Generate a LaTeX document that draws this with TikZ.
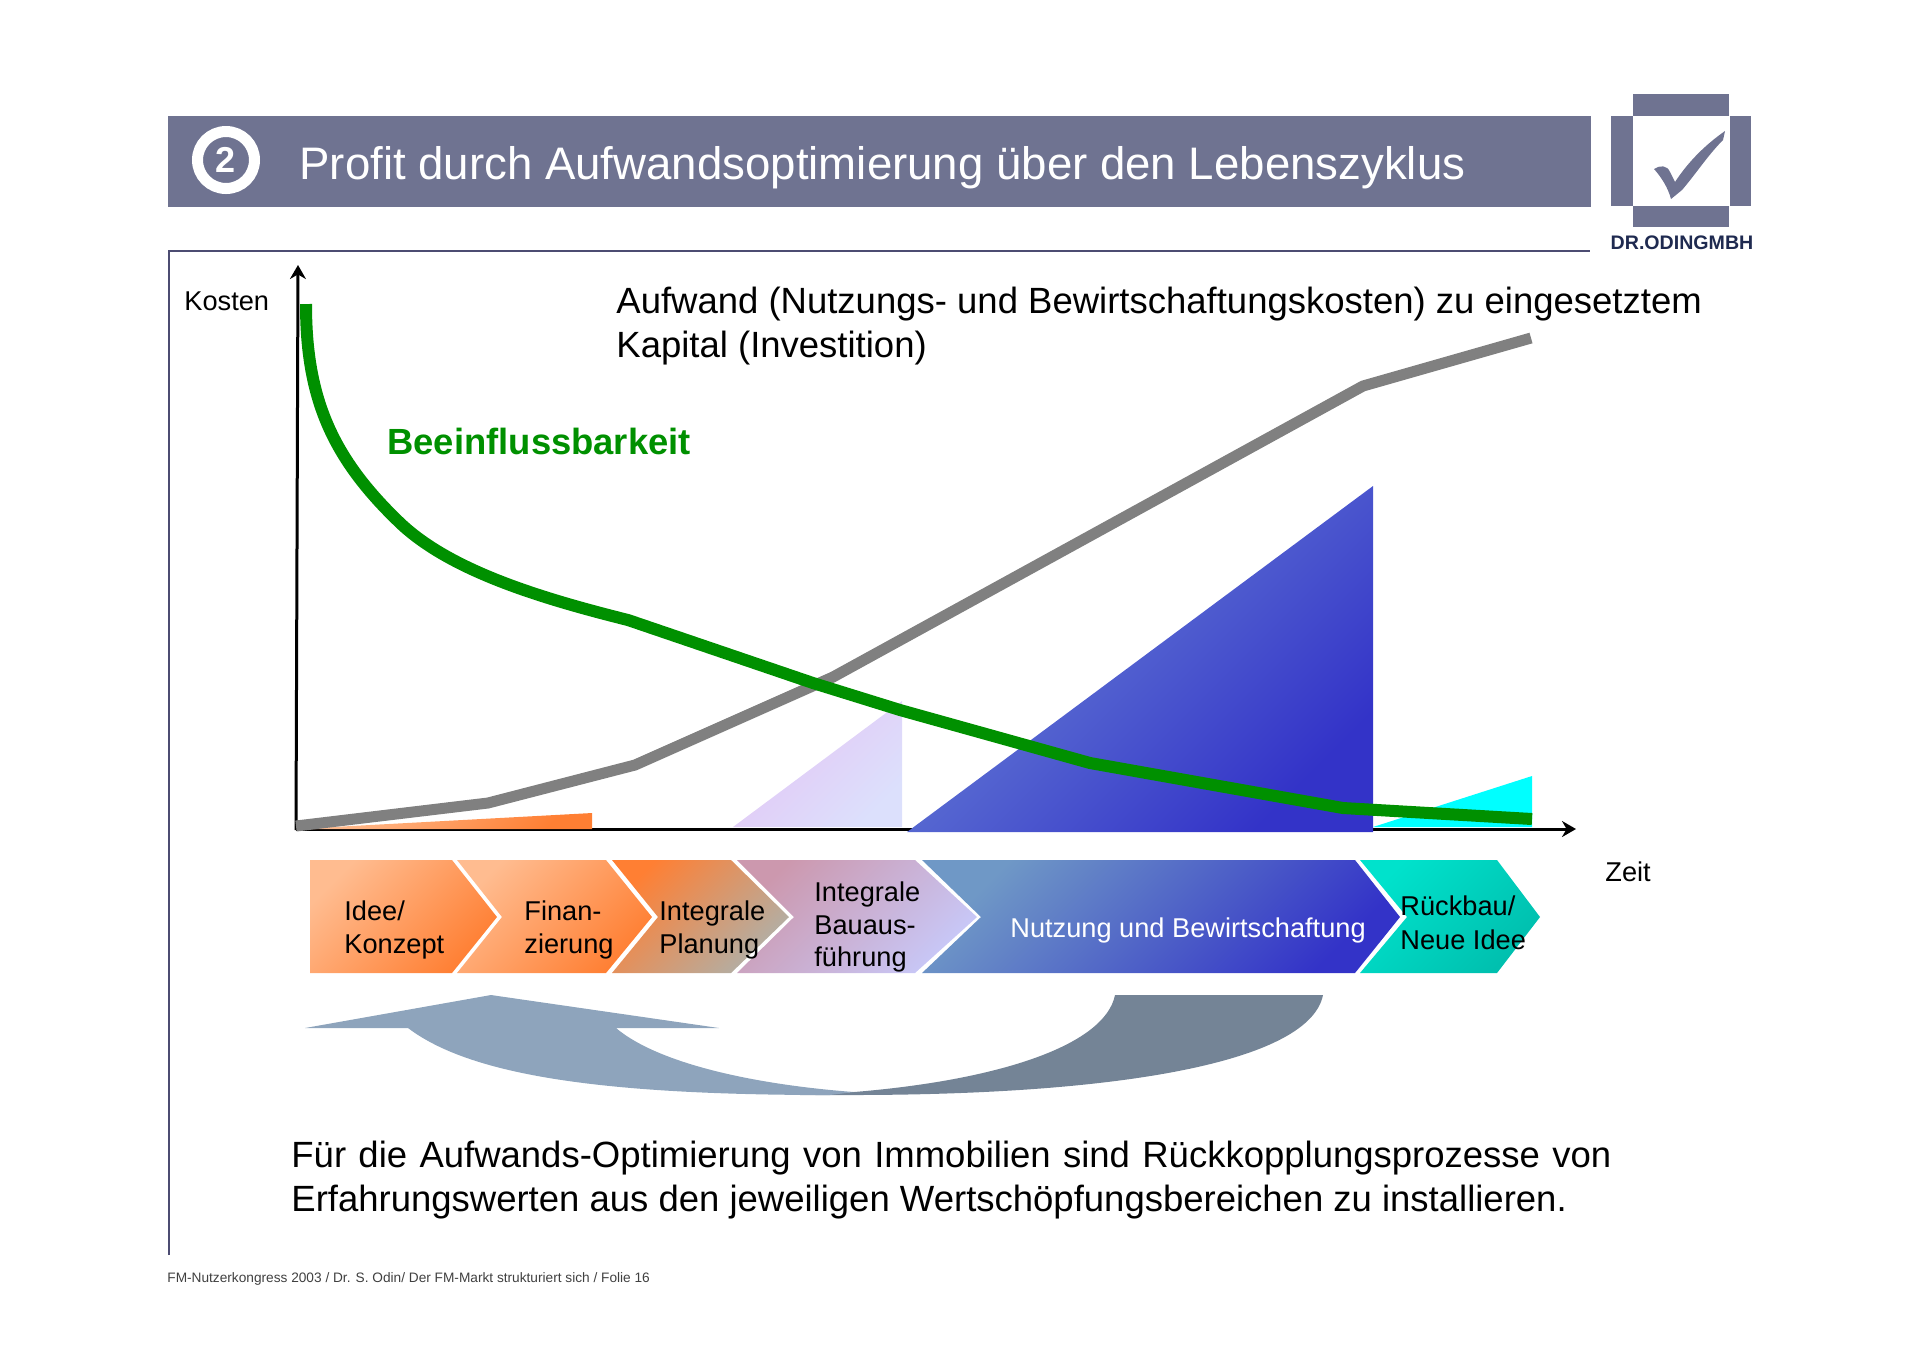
\documentclass[tikz,border=0pt]{standalone}
\usepackage{fontspec}
\setmainfont{Liberation Sans}
\usepackage{tikz}
\usetikzlibrary{arrows.meta}
\definecolor{barblue}{HTML}{6F7391}
\definecolor{rulecol}{HTML}{4C4C72}
\definecolor{logotext}{HTML}{1F2A50}
\definecolor{greencurve}{HTML}{009000}
\definecolor{backlight}{HTML}{8EA4BC}
\definecolor{backdark}{HTML}{748496}
\definecolor{orangea}{HTML}{FFBC90}
\definecolor{orangeb}{HTML}{FF7F33}
\definecolor{greyc}{HTML}{B0B0A8}
\definecolor{mauve}{HTML}{CC98AE}
\definecolor{lilac}{HTML}{C8C8F8}
\definecolor{blueb}{HTML}{6F98C6}
\definecolor{bluec}{HTML}{3333C8}
\definecolor{tealb}{HTML}{00E2CC}
\definecolor{tealc}{HTML}{00BFAE}
\definecolor{triA}{HTML}{E4C4F4}
\definecolor{triB}{HTML}{DCE0FC}
\definecolor{triC}{HTML}{6C88D6}
\definecolor{cyanfill}{HTML}{00FFFF}

\begin{document}
\begin{tikzpicture}[x=0.5pt,y=-0.5pt,
  >={Stealth[length=7pt,width=8pt]},
  lbl/.style={inner sep=0pt, anchor=west, align=left, font=\fontsize{13.6}{16.8}\selectfont},
  bigtxt/.style={inner sep=0pt, anchor=west, align=left, font=\fontsize{18.25}{22}\selectfont},
  barcol/.style={fill=barblue, draw=none},
  chev/.style 2 args={draw=none, left color=#1, right color=#2, shading angle=45},
  axisl/.style={draw=black, line width=1.5pt},
]
\useasboundingbox (0,0) rectangle (1920,1357);
% ---------------- title bar ----------------
\fill[barcol] (168,116) rectangle (1591,207);
\node[circle, draw=white, line width=5.5pt, minimum size=28.5pt, inner sep=0pt, text=white, font=\fontsize{18}{20}\bfseries\selectfont] (badge) at (226,160) {2};
\node[inner sep=0pt, anchor=base west, text=white, font=\fontsize{22.8}{28}\selectfont] (title) at (299,179) {Profit durch Aufwandsoptimierung über den Lebenszyklus};
% ---------------- logo ----------------
\fill[barcol] (1633,94) rectangle (1729,116);
\fill[barcol] (1611,116) rectangle (1633,206);
\fill[barcol] (1730,116) rectangle (1751,206);
\fill[barcol] (1633,206) rectangle (1729,227);
\fill[barcol] (1654,169) .. controls (1660,165) and (1667,165) .. (1670,172) -- (1675,182) .. controls (1688,162) and (1705,145) .. (1725,131) -- (1723,140) .. controls (1708,155) and (1695,175) .. (1682,190) -- (1671,199) .. controls (1668,188) and (1662,178) .. (1654,169) -- cycle;
\node[inner sep=0pt, text=logotext, font=\fontsize{9.8}{11}\bfseries\selectfont] (logoname) at (1682,243) {DR.ODINGMBH};
% ---------------- frame ----------------
\draw[rulecol, line width=0.8pt] (169,1255) -- (169,251) -- (1590,251);
% ---------------- chart ----------------
\draw[axisl,->] (296,830) -- (298,265);
\draw[axisl,->] (296,829) -- (1576,829);
\path[chev={orangea}{orangeb}] (296,829) -- (592,813) -- (592,829) -- cycle;
\path[chev={triA}{triB}] (733,827) -- (902,701) -- (902,827) -- cycle;
\path[chev={triC}{bluec}] (907,832) -- (1373,486) -- (1373,832) -- cycle;
\fill[cyanfill] (1373,827) -- (1532,776) -- (1532,827) -- cycle;
\draw[line width=5.5pt, draw=black!50] (296,826) -- (488,803) -- (635,765) -- (833,677) -- (1363,386) -- (1531,338);
\draw[line width=6pt, draw=greencurve] (306,304) .. controls (306,395) and (330,455) .. (397,520) .. controls (447,570) and (540,598) .. (628,620) -- (813,683) -- (900,710) -- (1090,763) -- (1343,808) -- (1532,819);
% ---------------- chart labels ----------------
\node[lbl, anchor=base west] (kosten) at (184,310) {Kosten};
\node[lbl, anchor=base west] (zeit) at (1605,881) {Zeit};
\node[bigtxt] (aufwand) at (616,326) {Aufwand (Nutzungs- und Bewirtschaftungskosten) zu eingesetztem\\Kapital (Investition)};
\node[inner sep=0pt, anchor=base west, text=greencurve, font=\fontsize{18.2}{22}\bfseries\selectfont] (beein) at (387,454) {Beeinflussbarkeit};
% ---------------- phases ----------------
\path[chev={orangea}{orangeb}] (310,860) -- (452,860) -- (497,917) -- (452,973) -- (310,973) -- cycle;
\path[chev={orangea}{orangeb}] (457,860) -- (606,860) -- (652,917) -- (606,973) -- (457,973) -- (502,917) -- cycle;
\path[chev={orangeb}{greyc}] (612,860) -- (731,860) -- (789,917) -- (731,973) -- (612,973) -- (658,917) -- cycle;
\path[chev={mauve}{lilac}] (737,860) -- (915,860) -- (977,917) -- (915,973) -- (737,973) -- (794,917) -- cycle;
\path[chev={blueb}{bluec}] (922,860) -- (1355,860) -- (1400,917) -- (1355,973) -- (922,973) -- (981,917) -- cycle;
\path[chev={tealb}{tealc}] (1360,860) -- (1497,860) -- (1540,917) -- (1497,973) -- (1360,973) -- (1407,917) -- cycle;
\node[lbl] (idee) at (344,930) {Idee/\\Konzept};
\node[lbl] (finan) at (524,930) {Finan-\\zierung};
\node[lbl] (planung) at (659,930) {Integrale\\Planung};
\node[lbl, font=\fontsize{13.6}{16.4}\selectfont] (bau) at (814,927) {Integrale\\Bauaus-\\führung};
\node[lbl, text=white, anchor=base west] (nutzung) at (1010,937) {Nutzung und Bewirtschaftung};
\node[lbl] (rueckbau) at (1400,923) {Rückbau/\\Neue Idee};
% ---------------- feedback arrow ----------------
\fill[backdark] (1115,995) -- (1323,995) .. controls (1310,1060) and (1130,1095) .. (850,1095) -- (800,1095) -- (854,1092) .. controls (1000,1080) and (1105,1045) .. (1115,995) -- cycle;
\fill[backlight] (408,1028) .. controls (470,1075) and (600,1095) .. (830,1095) -- (854,1092) .. controls (760,1085) and (660,1065) .. (616,1028) -- (719,1028) -- (491,995) -- (305,1028) -- cycle;
% ---------------- bottom text ----------------
\node[inner sep=0pt, anchor=north west, text width=660pt, align=justify, font=\fontsize{18.25}{22}\selectfont] (summary) at (291,1141) {Für die Aufwands-Optimierung von Immobilien sind Rückkopplungsprozesse von Erfahrungswerten aus den jeweiligen Wertschöpfungsbereichen zu installieren.};
\node[inner sep=0pt, anchor=base west, text=black!75, font=\fontsize{6.84}{8}\selectfont] (footer) at (167,1282) {FM-Nutzerkongress 2003 / Dr. S. Odin/ Der FM-Markt strukturiert sich / Folie 16};
\end{tikzpicture}
\end{document}
